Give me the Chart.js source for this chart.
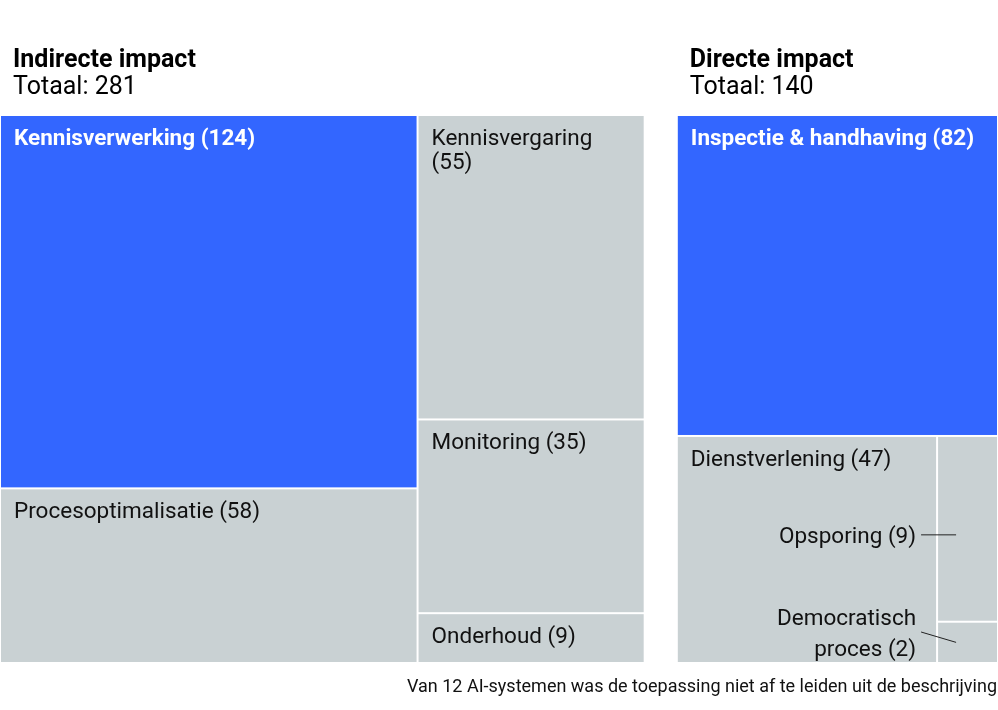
<!DOCTYPE html>
<html>
<head>
<meta charset="utf-8">
<script src="https://cdn.jsdelivr.net/npm/chart.js@4.4.1/dist/chart.umd.min.js"></script>
<style>
  html, body { margin: 0; padding: 0; background: #fff; }
  #wrap { width: 998px; height: 710px; }
</style>
</head>
<body>
<div id="wrap"><canvas id="treemap" width="998" height="710"></canvas></div>
<script>
const groupNames = ['Indirecte impact', 'Directe impact'];
const indirectLabels = ['Kennisverwerking', 'Procesoptimalisatie', 'Kennisvergaring', 'Monitoring', 'Onderhoud'];
const indirectValues = [124, 58, 55, 35, 9];
const directLabels = ['Inspectie & handhaving', 'Dienstverlening', 'Opsporing', 'Democratisch proces'];
const directValues = [82, 47, 9, 2];
const footnote = 'Van 12 AI-systemen was de toepassing niet af te leiden uit de beschrijving';

const groupLabels = [indirectLabels, directLabels];
const groupValues = [indirectValues, directValues];
const groupTotals = groupValues.map(v => v.reduce((a, b) => a + b, 0));
const groupGap = 14; // space between the two treemaps, in value units

const BLUE = '#3366ff';
const GREY = '#c9d1d3';
const FONT = 'Roboto, "Noto Sans", sans-serif';

// d3-style squarify (golden ratio), works on a pixel rectangle
function squarify(values, x0, y0, x1, y1) {
  const ratio = (1 + Math.sqrt(5)) / 2;
  const out = [];
  let value = values.reduce((a, b) => a + b, 0);
  let i0 = 0, i1 = 0;
  const n = values.length;
  while (i0 < n) {
    const dx = x1 - x0, dy = y1 - y0;
    let sum = values[i1++];
    let minV = sum, maxV = sum;
    const alpha = Math.max(dy / dx, dx / dy) / (value * ratio);
    let beta = sum * sum * alpha;
    let minRatio = Math.max(maxV / beta, beta / minV);
    for (; i1 < n; ++i1) {
      const v = values[i1];
      sum += v;
      if (v < minV) minV = v;
      if (v > maxV) maxV = v;
      beta = sum * sum * alpha;
      const r = Math.max(maxV / beta, beta / minV);
      if (r > minRatio) { sum -= v; break; }
      minRatio = r;
    }
    if (dx < dy) {
      const yb = y0 + dy * sum / value;
      let x = x0;
      for (let i = i0; i < i1; i++) {
        const w = dx * values[i] / sum;
        out[i] = { x0: x, y0: y0, x1: x + w, y1: yb };
        x += w;
      }
      y0 = yb;
    } else {
      const xb = x0 + dx * sum / value;
      let y = y0;
      for (let i = i0; i < i1; i++) {
        const h = dy * values[i] / sum;
        out[i] = { x0: x0, y0: y, x1: xb, y1: y + h };
        y += h;
      }
      x0 = xb;
    }
    value -= sum;
    i0 = i1;
  }
  return out;
}

function wrapText(ctx, text, maxWidth) {
  const words = text.split(' ');
  const lines = [];
  let line = '';
  words.forEach(w => {
    const test = line ? line + ' ' + w : w;
    if (line && ctx.measureText(test).width > maxWidth) {
      lines.push(line);
      line = w;
    } else {
      line = test;
    }
  });
  lines.push(line);
  return lines;
}

const treemapPlugin = {
  id: 'treemapPlugin',
  afterDraw(chart) {
    const ctx = chart.ctx;
    const xs = chart.scales.x, ys = chart.scales.y;
    const top = ys.getPixelForValue(1), bottom = ys.getPixelForValue(0);
    let start = 0;
    ctx.save();
    groupNames.forEach((name, gi) => {
      const gx0 = xs.getPixelForValue(start);
      const gx1 = xs.getPixelForValue(start + groupTotals[gi]);
      const vals = groupValues[gi];
      const labs = groupLabels[gi];
      const cells = squarify(vals, gx0, top, gx1, bottom);
      const maxVal = Math.max(...vals);

      // titles
      ctx.fillStyle = '#000';
      ctx.textAlign = 'left';
      ctx.textBaseline = 'alphabetic';
      ctx.font = 'bold 25px ' + FONT;
      ctx.fillText(name, gx0 + 13, 67);
      ctx.font = '25px ' + FONT;
      ctx.fillText('Totaal: ' + groupTotals[gi], gx0 + 13, 94);

      // cells
      cells.forEach((c, i) => {
        ctx.fillStyle = vals[i] === maxVal ? BLUE : GREY;
        ctx.fillRect(c.x0 + 1, c.y0 + 1, c.x1 - c.x0 - 2, c.y1 - c.y0 - 2);
      });

      // labels
      cells.forEach((c, i) => {
        const hi = vals[i] === maxVal;
        const text = labs[i] + ' (' + vals[i] + ')';
        ctx.font = (hi ? 'bold ' : '') + '22.5px ' + FONT;
        const w = c.x1 - c.x0;
        if (w > 100) {
          ctx.fillStyle = hi ? '#fff' : '#111';
          ctx.textAlign = 'left';
          const lines = wrapText(ctx, text, w - 26);
          lines.forEach((l, k) => ctx.fillText(l, c.x0 + 14, c.y0 + 30 + k * 24));
        } else {
          // small cell: label to the left with a leader line
          ctx.fillStyle = '#111';
          ctx.textAlign = 'right';
          const lines = wrapText(ctx, text, 150);
          const cy = (c.y0 + c.y1) / 2;
          const lh = 31;
          const half = (lines.length - 1) * lh / 2;
          const ty = Math.min(cy + 6, bottom - 31);
          lines.forEach((l, k) => ctx.fillText(l, c.x0 - 21, ty - half + 8 + k * lh));
          ctx.strokeStyle = '#222';
          ctx.lineWidth = 1;
          ctx.beginPath();
          ctx.moveTo(c.x0 - 16, ty);
          ctx.lineTo(c.x0 + 19, lines.length > 1 ? cy : ty);
          ctx.stroke();
        }
      });
      start += groupTotals[gi] + groupGap;
    });

    ctx.fillStyle = '#111';
    ctx.textAlign = 'right';
    ctx.font = '18px ' + FONT;
    ctx.fillText(footnote, chart.width - 1, 692);
    ctx.restore();
  }
};

new Chart(document.getElementById('treemap').getContext('2d'), {
  type: 'scatter',
  data: { datasets: [{ data: [] }] },
  options: {
    responsive: false,
    animation: false,
    events: [],
    layout: { padding: { top: 115, bottom: 47, left: 0, right: 0 } },
    scales: {
      x: { type: 'linear', min: 0, max: groupTotals[0] + groupGap + groupTotals[1], display: false },
      y: { type: 'linear', min: 0, max: 1, display: false }
    },
    plugins: { legend: { display: false }, tooltip: { enabled: false } }
  },
  plugins: [treemapPlugin]
});
</script>
</body>
</html>
